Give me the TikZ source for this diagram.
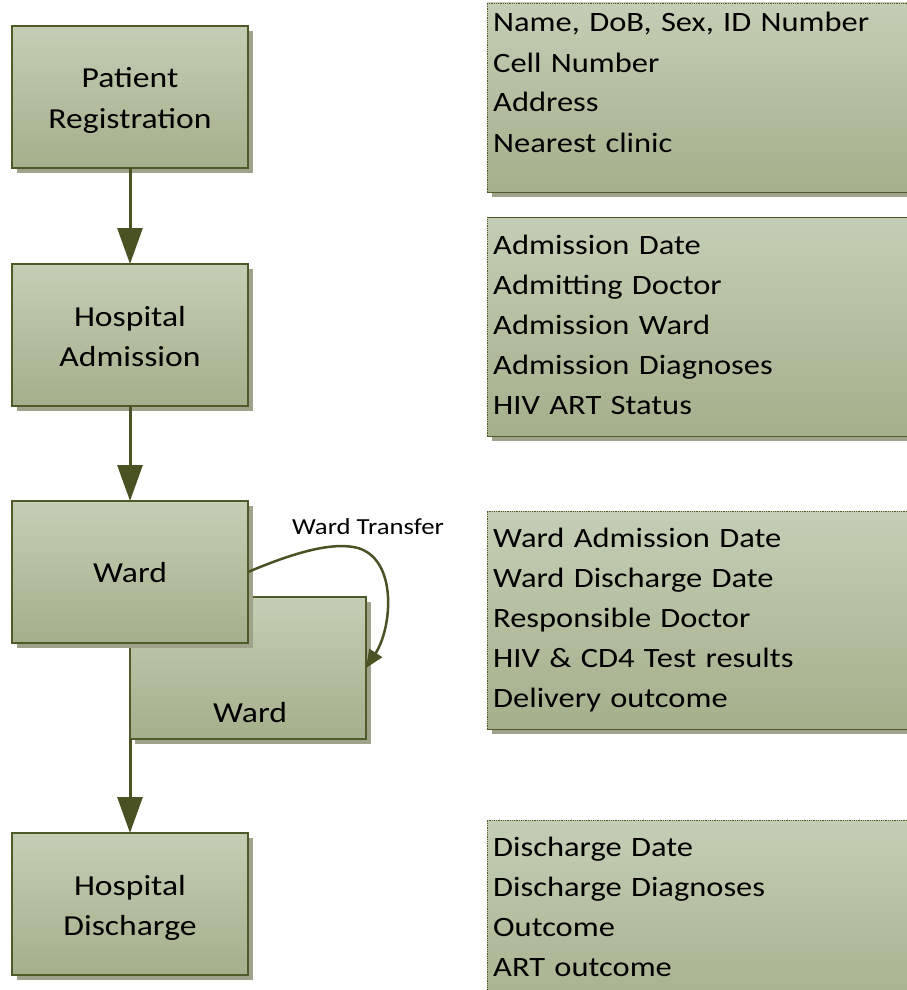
\documentclass[tikz,border=0pt]{standalone}
\usepackage{fontspec}
\setmainfont{Carlito}[FakeStretch=1.16]
\usetikzlibrary{arrows.meta,shadows}
\definecolor{topc}{RGB}{196,206,181}
\definecolor{botc}{RGB}{164,175,139}
\definecolor{edgec}{RGB}{79,90,40}
\definecolor{arrc}{RGB}{74,82,36}
\definecolor{shadc}{RGB}{160,163,140}
\tikzset{
  lbox/.style={rectangle, minimum width=236pt, minimum height=142pt, inner sep=0pt, outer sep=0pt,
    top color=topc, bottom color=botc, draw=edgec, line width=1.2pt,
    drop shadow={shadow xshift=5pt, shadow yshift=-5pt, fill=shadc, opacity=1}},
  rbox/.style={rectangle, inner sep=0pt, outer sep=0pt, anchor=north west,
    top color=topc, bottom color=botc,
    drop shadow={shadow xshift=5pt, shadow yshift=-5pt, fill=shadc, opacity=1}},
  ltext/.style={anchor=base, text width=236pt, align=center, inner sep=0pt, font=\fontsize{29}{40}\selectfont},
  rtext/.style={anchor=base west, text width=410pt, align=left, inner sep=0pt, font=\fontsize{28}{40}\selectfont},
  arr/.style={draw=arrc, line width=3pt, -{Triangle[width=25pt,length=36pt]}},
  tarr/.style={draw=arrc, line width=2.5pt, -{Triangle[width=15pt,length=18pt]}},
  edgeline/.style={draw=edgec, line width=1pt},
  dotline/.style={draw=edgec, line width=0.8pt, densely dotted}
}
\begin{document}
\begin{tikzpicture}[x=1pt,y=-1pt]
\useasboundingbox (0,0) rectangle (907,990);
% right boxes
\node[rbox, minimum width=430pt, minimum height=189pt] (ra) at (487,3) {};
\node[rbox, minimum width=430pt, minimum height=219pt] (rb) at (487,217) {};
\node[rbox, minimum width=430pt, minimum height=218pt] (rc) at (487,511) {};
\node[rbox, minimum width=430pt, minimum height=200pt] (rd) at (487,820) {};
\foreach \b in {ra,rc,rd}{
  \draw[dotline] (\b.south west) -- (\b.north west) -- (\b.north east);
}
\draw[dotline] (rb.south west) -- (rb.north west);
\draw[edgeline] (rb.north west) -- (rb.north east);
\foreach \b in {ra,rb,rc}{
  \draw[edgeline] (\b.south west) -- (\b.south east);
}
\node[rtext] (rat) at (493,32) {Name, DoB, Sex, ID Number\\Cell Number\\Address\\Nearest clinic};
\node[rtext] (rbt) at (493,254) {Admission Date\\Admitting Doctor\\Admission Ward\\Admission Diagnoses\\HIV ART Status};
\node[rtext] (rct) at (493,547) {Ward Admission Date\\Ward Discharge Date\\Responsible Doctor\\HIV \& CD4 Test results\\Delivery outcome};
\node[rtext] (rdt) at (493,856) {Discharge Date\\Discharge Diagnoses\\Outcome\\ART outcome};
% left boxes
\node[lbox] (reg) at (130,97) {};
\node[lbox] (adm) at (130,335) {};
\node[lbox] (wardb) at (248,668) {};
\node[lbox] (warda) at (130,572) {};
\node[lbox] (dis) at (130,904) {};
\node[ltext] (regt) at (130,88) {Patient\\Registration};
\node[ltext] (admt) at (130,326) {Hospital\\Admission};
\node[ltext] (wardat) at (130,582) {Ward};
\node[ltext] (wardbt) at (250,722) {Ward};
\node[ltext] (dist) at (130,895) {Hospital\\Discharge};
% connectors
\draw[arr] (reg.south) -- (adm.north);
\draw[arr] (adm.south) -- (warda.north);
\draw[arr] (wardb.south west) -- (dis.north);
\draw[tarr] (warda.east) .. controls (300,550) and (335,542) .. (358,548)
  .. controls (398,560) and (392,628) .. (wardb.east);
\node[anchor=base, inner sep=0pt, font=\fontsize{23}{26}\selectfont] (wt) at (368,534) {Ward Transfer};
\end{tikzpicture}
\end{document}
